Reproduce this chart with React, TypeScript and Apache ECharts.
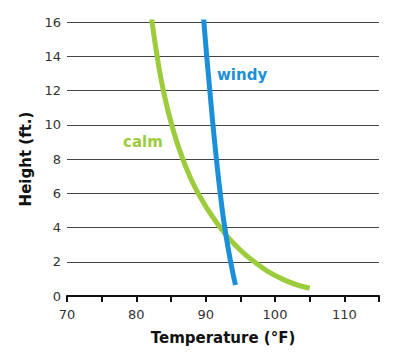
import React, { useEffect, useRef } from "react";
import * as echarts from "echarts";

const calmTemp = [82.2, 83.0, 83.9, 85.1, 86.7, 88.9, 92.1, 94.2, 97.0, 101.0, 105.0];
const calmHeight = [16.2, 14, 12, 10, 8, 6, 4, 3, 2, 1, 0.45];
const windyTemp = [89.7, 90.15, 90.6, 91.05, 91.55, 92.1, 92.75, 93.6, 94.3];
const windyHeight = [16.2, 14, 12, 10, 8, 6, 4, 2, 0.64];
const xTickLabels = [70, 80, 90, 100, 110];

const GREEN = "#9ccb3b";
const BLUE = "#1b8fd8";

export default function App() {
  const ref = useRef<HTMLDivElement>(null);
  useEffect(() => {
    if (!ref.current) return;
    const chart = echarts.init(ref.current, null, { renderer: "svg" });
    const font = "'DejaVu Sans', sans-serif";
    chart.setOption({
      animation: false,
      grid: { left: 67, right: 21, top: 22, bottom: 64 },
      xAxis: {
        type: "value",
        min: 70,
        max: 115,
        interval: 5,
        name: "Temperature (°F)",
        nameLocation: "middle",
        nameGap: 34,
        nameTextStyle: { fontFamily: font, fontWeight: "bold", fontSize: 15, color: "#111" },
        axisLine: { show: true, lineStyle: { color: "#111", width: 2 } },
        axisTick: { show: true, length: 6, lineStyle: { color: "#111", width: 2 } },
        axisLabel: {
          margin: 12,
          fontFamily: font,
          fontSize: 13,
          color: "#333",
          formatter: (v: number) => (xTickLabels.includes(v) ? String(v) : ""),
        },
        splitLine: { show: false },
      },
      yAxis: {
        type: "value",
        min: 0,
        max: 16,
        interval: 2,
        name: "Height (ft.)",
        nameLocation: "middle",
        nameGap: 29,
        nameTextStyle: { fontFamily: font, fontWeight: "bold", fontSize: 15, color: "#111" },
        axisLine: { show: false },
        axisTick: { show: false },
        axisLabel: { margin: 6, fontFamily: font, fontSize: 13, color: "#333" },
        splitLine: { show: true, lineStyle: { color: "#444", width: 1 } },
      },
      series: [
        {
          type: "line",
          name: "calm",
          smooth: 0.5,
          showSymbol: false,
          lineStyle: { color: GREEN, width: 5 },
          data: calmTemp.map((t, i) => [t, calmHeight[i]]),
          z: 3,
        },
        {
          type: "line",
          name: "windy",
          smooth: 0.5,
          showSymbol: false,
          lineStyle: { color: BLUE, width: 5 },
          data: windyTemp.map((t, i) => [t, windyHeight[i]]),
          z: 4,
        },
      ],
      graphic: [
        {
          type: "text",
          left: 217,
          top: 67,
          style: { text: "windy", fill: BLUE, font: `bold 15px ${font}` },
        },
        {
          type: "text",
          left: 123,
          top: 134,
          style: { text: "calm", fill: GREEN, font: `bold 15px ${font}` },
        },
      ],
    });
    return () => chart.dispose();
  }, []);
  return (
    <div
      ref={ref}
      style={{ position: "fixed", left: 0, top: 0, width: 400, height: 360, background: "#fff" }}
    />
  );
}
